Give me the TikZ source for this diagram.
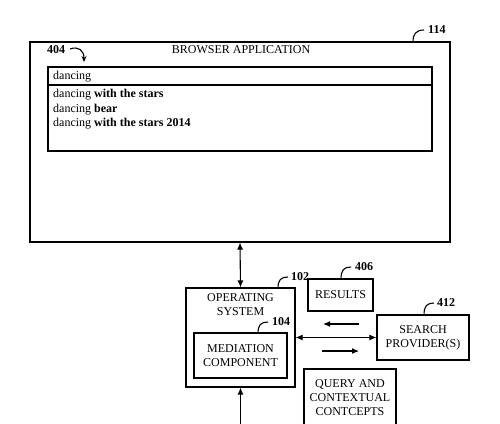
\documentclass[tikz,border=0pt]{standalone}
\usepackage{fontspec}
\setmainfont{Liberation Serif}
\usetikzlibrary{arrows.meta}
\begin{document}
\begin{tikzpicture}[x=1pt,y=-1pt,
  box/.style={draw,line width=1.2pt,rectangle,inner sep=0pt},
  txt/.style={font=\fontsize{12}{14}\selectfont,align=center,inner sep=0pt},
  lbl/.style={font=\fontsize{12}{14}\selectfont\bfseries,inner sep=0pt,anchor=west},
  conn/.style={line width=1.2pt},
  arr/.style={line width=1.1pt,-{Latex[length=7pt,width=6pt]}},
  darr/.style={line width=1.1pt,{Latex[length=7pt,width=6pt]}-{Latex[length=7pt,width=6pt]}},
  lead/.style={line width=1.1pt}]
\useasboundingbox (0,0) rectangle (500,423);
\clip (0,0) rectangle (500,423);
% browser
\node[box,minimum width=420pt,minimum height=200pt] (browser) at (240,142) {};
\node[txt] (btitle) at (241,50) {BROWSER APPLICATION};
\node[box,minimum width=384pt,minimum height=84pt] (list) at (240,109) {};
\coordinate (divl) at (48,85);
\coordinate (divr) at (432,85);
\draw[conn] (divl) -- (divr);
\node[txt,anchor=west] (q) at (53,76.5) {dancing};
\node[txt,anchor=west] (s1) at (53,95) {dancing \textbf{with the stars}};
\node[txt,anchor=west] (s2) at (53,109.5) {dancing \textbf{bear}};
\node[txt,anchor=west] (s3) at (53,124) {dancing \textbf{with the stars 2014}};
\node[lbl] (l404) at (47,50) {404};
\coordinate (a404s) at (70,49);
\coordinate (a404e) at (84,62);
\draw[line width=1.1pt,-{Stealth[length=6pt,width=5pt]}] (a404s) .. controls (78,46) and (84,50) .. (a404e);
\node[lbl] (l114) at (428,30) {114};
\coordinate (h114) at (413,42);
\coordinate (e114) at (424,30);
\draw[lead] (h114) .. controls (413,34) and (416,30) .. (e114);
% OS
\node[box,minimum width=109pt,minimum height=99pt] (os) at (240.5,337.5) {};
\node[txt] (ostext) at (240.5,304.5) {OPERATING\\SYSTEM};
\node[box,minimum width=93pt,minimum height=45pt,txt] (med) at (240.5,355.5) {MEDIATION\\COMPONENT};
\node[lbl] (l102) at (291,277) {102};
\coordinate (h102) at (278,288);
\coordinate (e102) at (288,277);
\draw[lead] (h102) .. controls (278,280) and (281,277) .. (e102);
\node[lbl] (l104) at (272,322) {104};
\coordinate (h104) at (258,333);
\coordinate (e104) at (268,322);
\draw[lead] (h104) .. controls (258,325) and (261,322) .. (e104);
% results
\node[box,minimum width=65pt,minimum height=32pt,txt] (results) at (340.5,295) {RESULTS};
\node[lbl] (l406) at (355,267) {406};
\coordinate (h406) at (341,279);
\coordinate (e406) at (351,267);
\draw[lead] (h406) .. controls (341,270) and (344,267) .. (e406);
% search
\node[box,minimum width=92pt,minimum height=45pt,txt] (search) at (423,337.5) {SEARCH\\PROVIDER(S)};
\node[lbl] (l412) at (437,303) {412};
\coordinate (h412) at (424,315);
\coordinate (e412) at (434,303);
\draw[lead] (h412) .. controls (424,306) and (427,303) .. (e412);
% query
\node[box,minimum width=92pt,minimum height=80pt] (query) at (350,409) {};
\node[txt] (qtext) at (350,398) {QUERY AND\\CONTEXTUAL\\CONTCEPTS};
% connectors
\draw[darr] (browser.south) -- (os.north);
\draw[darr] (os.east) -- (search.west);
\coordinate (bot) at (240.5,430);
\draw[arr] (bot) -- (os.south);
\coordinate (la1) at (359,324);
\coordinate (la2) at (323,324);
\draw[arr] (la1) -- (la2);
\coordinate (ra1) at (322,351);
\coordinate (ra2) at (359,351);
\draw[arr] (ra1) -- (ra2);
\end{tikzpicture}
\end{document}
